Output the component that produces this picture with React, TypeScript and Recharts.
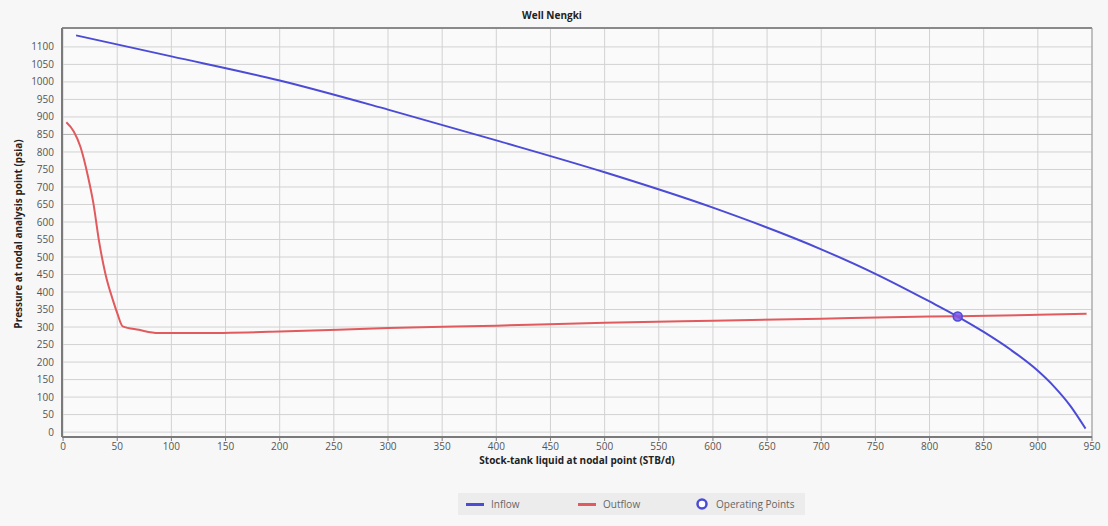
import React from "react";
import {
  ComposedChart,
  Line,
  Scatter,
  XAxis,
  YAxis,
  CartesianGrid,
  Legend,
  ReferenceLine,
} from "recharts";

const inflowX = [12, 100, 200, 300, 400, 500, 600, 700, 750, 800, 826, 850, 875, 900, 915, 930, 944];
const inflowY = [1133, 1073, 1004, 921, 833, 742, 641, 522, 452, 373, 330, 286, 235, 175, 130, 75, 10];

const outflowX = [3, 10, 16, 23, 28, 33, 39, 46, 50, 55, 70, 88, 125, 200, 300, 400, 500, 600, 700, 800, 826, 900, 945];
const outflowY = [885, 858, 815, 730, 653, 549, 453, 377, 340, 302, 292, 283, 283, 287, 297, 304, 312, 318, 324, 330, 331, 335, 338];

const opX = [826];
const opY = [330];

const xTicks = [0, 50, 100, 150, 200, 250, 300, 350, 400, 450, 500, 550, 600, 650, 700, 750, 800, 850, 900, 950];
const yTicks = [0, 50, 100, 150, 200, 250, 300, 350, 400, 450, 500, 550, 600, 650, 700, 750, 800, 850, 900, 950, 1000, 1050, 1100];

const inflow = inflowX.map((x, i) => ({ x, y: inflowY[i] }));
const outflow = outflowX.map((x, i) => ({ x, y: outflowY[i] }));
const op = opX.map((x, i) => ({ x, y: opY[i] }));

const BLUE = "#4b4bd6";
const RED = "#e05a5e";
const FONT = "'Open Sans', 'Noto Sans', sans-serif";

const abs = (left: number, extra: React.CSSProperties = {}): React.CSSProperties => ({
  position: "absolute",
  left,
  ...extra,
});

const LegendContent = () => (
  <div
    style={{
      position: "relative",
      width: 347,
      height: 22,
      background: "#ececec",
      fontFamily: FONT,
      fontSize: 10,
      color: "#666",
      whiteSpace: "nowrap",
    }}
  >
    <span style={abs(8, { top: 10, width: 18, height: 3, background: BLUE })} />
    <span style={abs(33, { top: 4, lineHeight: "14px" })}>Inflow</span>
    <span style={abs(120, { top: 10, width: 18, height: 3, background: RED })} />
    <span style={abs(145, { top: 4, lineHeight: "14px" })}>Outflow</span>
    <svg width={14} height={14} style={abs(237, { top: 4 })}>
      <circle cx={7} cy={7} r={4.5} fill="#fff" stroke={BLUE} strokeWidth={2.5} />
    </svg>
    <span style={abs(258, { top: 4, lineHeight: "14px" })}>Operating Points</span>
  </div>
);

const YLabel = () => (
  <text
    x={22}
    y={234}
    transform="rotate(-90 22 234)"
    textAnchor="middle"
    fontFamily={FONT}
    fontSize={10}
    fontWeight="bold"
    fill="#222"
  >
    Pressure at nodal analysis point (psia)
  </text>
);

export default function App() {
  return (
    <div
      style={{
        position: "absolute",
        left: 0,
        top: 0,
        width: 1108,
        height: 526,
        background: "#f7f7f7",
      }}
    >
      <div
        style={{
          position: "absolute",
          left: 0,
          top: 8,
          width: 1108,
          textAlign: "center",
          fontFamily: FONT,
          fontSize: 10,
          fontWeight: "bold",
          color: "#222",
        }}
      >
        <span style={{ position: "relative", left: -2 }}>Well Nengki</span>
      </div>
      <ComposedChart
        width={1108}
        height={526}
        margin={{ top: 28, right: 16, bottom: 59, left: 22 }}
        style={{ position: "absolute", left: 0, top: 0 }}
      >
        <CartesianGrid stroke="#d2d2d2" strokeWidth={1} fill="#fafafa" />
        <XAxis
          type="number"
          dataKey="x"
          domain={[-1, 950]}
          ticks={xTicks}
          interval={0}
          allowDataOverflow
          axisLine={{ stroke: "#7a7a7a", strokeWidth: 2 }}
          tickLine={{ stroke: "#7a7a7a" }}
          tickSize={4}
          tick={{ fontSize: 10, fill: "#555", fontFamily: FONT }}
          height={30}
          label={{
            value: "Stock-tank liquid at nodal point (STB/d)",
            position: "insideBottom",
            offset: 3,
            style: { fontSize: 10, fontWeight: "bold", fill: "#222", fontFamily: FONT },
          }}
        />
        <YAxis
          type="number"
          dataKey="y"
          domain={[-14, 1154]}
          ticks={yTicks}
          interval={0}
          allowDataOverflow
          width={40}
          axisLine={{ stroke: "#7a7a7a", strokeWidth: 2 }}
          tickLine={false}
          tick={{ fontSize: 10, fill: "#555", fontFamily: FONT }}
          label={<YLabel />}
        />
        <ReferenceLine y={850} stroke="#b4b4b4" strokeWidth={1} />
        <ReferenceLine y={1154} stroke="#8a8a8a" strokeWidth={2} />
        <ReferenceLine x={950} stroke="#9a9a9a" strokeWidth={1} />
        <Legend
          verticalAlign="middle"
          layout="horizontal"
          content={<LegendContent />}
          wrapperStyle={{ top: 493, left: 458, width: 347, height: 22 }}
        />
        <Line
          data={inflow}
          dataKey="y"
          type="monotone"
          stroke={BLUE}
          strokeWidth={2}
          dot={false}
          isAnimationActive={false}
          name="Inflow"
        />
        <Line
          data={outflow}
          dataKey="y"
          type="monotone"
          stroke={RED}
          strokeWidth={2}
          dot={false}
          isAnimationActive={false}
          name="Outflow"
        />
        <Scatter
          data={op}
          dataKey="y"
          fill="#7a55e6"
          fillOpacity={0.85}
          stroke={BLUE}
          strokeWidth={1.5}
          shape="circle"
          isAnimationActive={false}
          name="Operating Points"
        />
      </ComposedChart>
    </div>
  );
}
